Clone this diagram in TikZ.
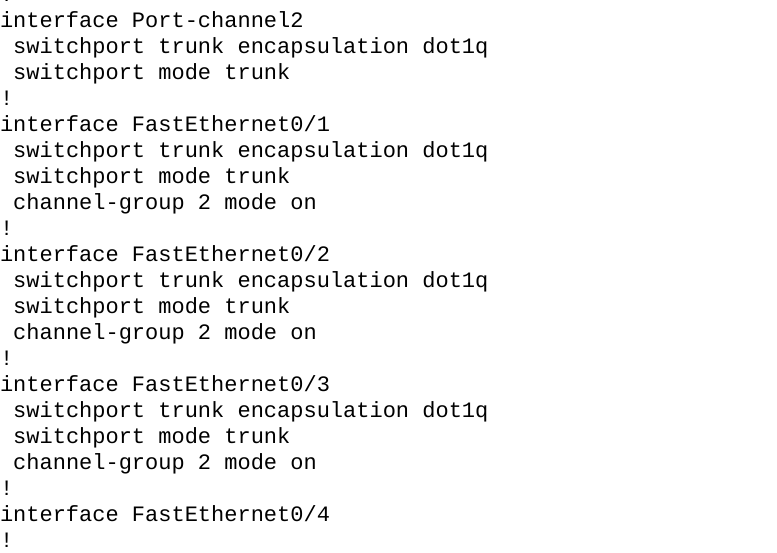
\documentclass[tikz,border=0pt]{standalone}
\usepackage{fontspec}
\setmonofont{Liberation Mono}
\usepackage{tikz}
\usetikzlibrary{positioning}

\tikzset{
    cfgline/.style={anchor=base west, inner sep=0pt, outer sep=0pt,
            font=\ttfamily\fontsize{22pt}{26pt}\selectfont, text=black},
    cfgsub/.style={cfgline, xshift=13.2pt}
}

\begin{document}
\begin{tikzpicture}[x=1pt,y=1pt]

    \useasboundingbox[fill=white] (0,27.5) rectangle (777,-524.5);

    % end of the previous block, cut by the top edge
    \node[cfgline] (sep0) at (0,26) {!};

    %Port-channel2
    \node[cfgline] (pc2) at (0,0) {interface Port-channel2};
    \node[cfgsub] (pc2enc) at (0,-26) {switchport trunk encapsulation dot1q};
    \node[cfgsub] (pc2mode) at (0,-52) {switchport mode trunk};
    \node[cfgline] (sep1) at (0,-78) {!};

    % ------------------

    %FastEthernet0/1
    \node[cfgline] (fa1) at (0,-104) {interface FastEthernet0/1};
    \node[cfgsub] (fa1enc) at (0,-130) {switchport trunk encapsulation dot1q};
    \node[cfgsub] (fa1mode) at (0,-156) {switchport mode trunk};
    \node[cfgsub] (fa1grp) at (0,-182) {channel-group 2 mode on};
    \node[cfgline] (sep2) at (0,-208) {!};

    % ------------------

    %FastEthernet0/2
    \node[cfgline] (fa2) at (0,-234) {interface FastEthernet0/2};
    \node[cfgsub] (fa2enc) at (0,-260) {switchport trunk encapsulation dot1q};
    \node[cfgsub] (fa2mode) at (0,-286) {switchport mode trunk};
    \node[cfgsub] (fa2grp) at (0,-312) {channel-group 2 mode on};
    \node[cfgline] (sep3) at (0,-338) {!};

    % ------------------

    %FastEthernet0/3
    \node[cfgline] (fa3) at (0,-364) {interface FastEthernet0/3};
    \node[cfgsub] (fa3enc) at (0,-390) {switchport trunk encapsulation dot1q};
    \node[cfgsub] (fa3mode) at (0,-416) {switchport mode trunk};
    \node[cfgsub] (fa3grp) at (0,-442) {channel-group 2 mode on};
    \node[cfgline] (sep4) at (0,-468) {!};

    % ------------------

    %FastEthernet0/4
    \node[cfgline] (fa4) at (0,-494) {interface FastEthernet0/4};
    \node[cfgline] (sep5) at (0,-520) {!};

\end{tikzpicture}
\end{document}
